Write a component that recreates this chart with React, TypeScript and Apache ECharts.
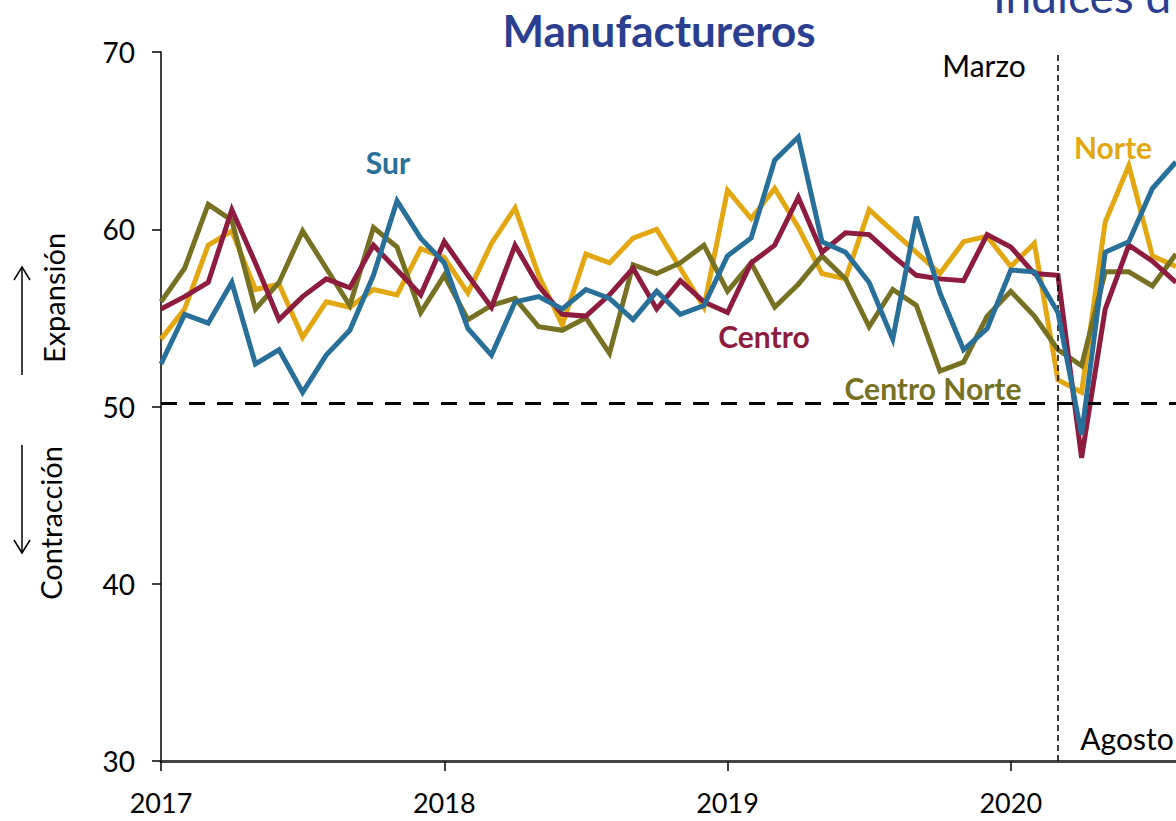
import React, { useEffect, useRef } from "react";
import * as echarts from "echarts";

const months: string[] = [];
for (let y = 2017; y <= 2020; y++) {
  for (let m = 1; m <= 12; m++) {
    if (y === 2020 && m > 8) break;
    months.push(`${y}-${String(m).padStart(2, "0")}`);
  }
}

const norte = [53.8, 55.5, 59.1, 59.9, 56.6, 56.9, 53.9, 55.9, 55.6, 56.6, 56.3, 58.9,
  58.4, 56.4, 59.2, 61.2, 57.4, 54.6, 58.6, 58.1, 59.5, 60.0, 57.8, 55.6,
  62.2, 60.6, 62.3, 60.1, 57.5, 57.2, 61.1, 59.9, 58.7, 57.5, 59.3, 59.6,
  57.9, 59.2, 51.5, 50.8, 60.4, 63.6, 58.5, 57.9];
const centro = [55.5, 56.2, 57.0, 61.1, 58.1, 54.9, 56.2, 57.2, 56.7, 59.1, 57.7, 56.3,
  59.3, 57.4, 55.6, 59.1, 56.8, 55.2, 55.1, 56.3, 57.8, 55.5, 57.1, 55.9,
  55.3, 58.1, 59.1, 61.8, 58.7, 59.8, 59.7, 58.5, 57.4, 57.2, 57.1, 59.7,
  59.0, 57.5, 57.4, 47.1, 55.5, 59.1, 58.2, 57.0];
const centroNorte = [55.9, 57.8, 61.4, 60.5, 55.5, 57.0, 59.9, 57.8, 55.7, 60.1, 59.0, 55.3,
  57.4, 54.9, 55.7, 56.1, 54.5, 54.3, 55.0, 53.0, 58.0, 57.5, 58.1, 59.1,
  56.5, 58.1, 55.6, 56.9, 58.5, 57.2, 54.5, 56.6, 55.7, 52.0, 52.5, 55.1,
  56.5, 55.1, 53.2, 52.3, 57.6, 57.6, 56.8, 58.6];
const sur = [52.4, 55.2, 54.7, 57.0, 52.4, 53.2, 50.8, 52.9, 54.3, 57.4, 61.6, 59.5,
  58.1, 54.4, 52.9, 55.9, 56.2, 55.5, 56.6, 56.1, 54.9, 56.5, 55.2, 55.7,
  58.5, 59.5, 63.9, 65.2, 59.3, 58.7, 57.0, 53.8, 60.7, 56.4, 53.2, 54.4,
  57.7, 57.6, 55.3, 48.4, 58.7, 59.3, 62.3, 63.8];

const yTicks = [30, 40, 50, 60, 70];
const threshold = 50.2;
const eventMonth = "2020-03";

const FONT = "Lato, 'Open Sans', sans-serif";
const C_NORTE = "#E2A711";
const C_CENTRO = "#8E1C3F";
const C_CN = "#767123";
const C_SUR = "#286F99";
const C_TITLE = "#2B3F91";

export default function App() {
  const ref = useRef<HTMLDivElement>(null);
  useEffect(() => {
    if (!ref.current) return;
    const chart = echarts.init(ref.current, null, { renderer: "svg" });
    const mkLine = (name: string, data: number[], color: string, z: number) => ({
      name,
      type: "line",
      data,
      symbol: "none",
      z,
      lineStyle: { color, width: 5, join: "miter" },
    });
    const lbl = (text: string, x: number, y: number, color: string, bold = true) => ({
      type: "text", x, y,
      style: { text, font: `${bold ? "bold " : ""}30px ${FONT}`, fill: color, align: "center", verticalAlign: "middle" },
    });
    const option: any = {
      animation: false,
      grid: { left: 161, right: 0, top: 52, bottom: 60 },
      xAxis: {
        type: "category",
        data: months,
        boundaryGap: false,
        axisLine: { lineStyle: { color: "#444", width: 3 } },
        axisTick: {
          show: true,
          length: 10,
          interval: (i: number) => i % 12 === 0,
          lineStyle: { color: "#000", width: 1.5 },
        },
        axisLabel: {
          interval: (i: number) => i % 12 === 0,
          formatter: (v: string) => v.slice(0, 4),
          fontFamily: FONT,
          fontSize: 27,
          color: "#000",
          margin: 28,
        },
        splitLine: { show: false },
      },
      yAxis: {
        type: "value",
        min: yTicks[0],
        max: yTicks[yTicks.length - 1],
        interval: 10,
        axisLine: { show: true, lineStyle: { color: "#000", width: 1.5 } },
        axisTick: { show: true, length: 9, lineStyle: { color: "#000", width: 1.5 } },
        axisLabel: { fontFamily: FONT, fontSize: 28, color: "#000", margin: 26 },
        splitLine: { show: false },
      },
      series: [
        {
          ...mkLine("Norte", norte, C_NORTE, 2),
          markLine: {
            silent: true,
            symbol: "none",
            label: { show: false },
            data: [
              { yAxis: threshold, lineStyle: { color: "#000", width: 3, type: [16, 12] } },
              { xAxis: eventMonth, lineStyle: { color: "#000", width: 1.5, type: [6, 4] } },
            ],
          },
        },
        mkLine("Centro Norte", centroNorte, C_CN, 3),
        mkLine("Centro", centro, C_CENTRO, 4),
        mkLine("Sur", sur, C_SUR, 5),
      ],
      graphic: [
        {
          type: "text", x: 659, y: 30,
          style: { text: "Manufactureros", font: `bold 44px ${FONT}`, fill: C_TITLE, align: "center", verticalAlign: "middle" },
        },
        {
          type: "text", x: 993, y: -28,
          style: { text: "Índices d", font: `46px ${FONT}`, fill: C_TITLE },
        },
        lbl("Sur", 388, 162, C_SUR),
        lbl("Norte", 1113, 147, C_NORTE),
        lbl("Centro", 764, 336, C_CENTRO),
        lbl("Centro Norte", 933, 388, C_CN),
        lbl("Marzo", 984, 65, "#000", false),
        lbl("Agosto", 1127, 738, "#000", false),
        {
          type: "text", x: 53, y: 298, rotation: Math.PI / 2,
          style: { text: "Expansión", font: `29px ${FONT}`, fill: "#000", align: "center", verticalAlign: "middle" },
        },
        {
          type: "text", x: 50, y: 523, rotation: Math.PI / 2,
          style: { text: "Contracción", font: `29px ${FONT}`, fill: "#000", align: "center", verticalAlign: "middle" },
        },
        { type: "line", shape: { x1: 22, y1: 375, x2: 22, y2: 267 }, style: { stroke: "#000", lineWidth: 1.5 } },
        { type: "polyline", shape: { points: [[14, 280], [22, 267], [30, 280]] }, style: { stroke: "#000", lineWidth: 1.5, fill: null } },
        { type: "line", shape: { x1: 22, y1: 445, x2: 22, y2: 553 }, style: { stroke: "#000", lineWidth: 1.5 } },
        { type: "polyline", shape: { points: [[14, 540], [22, 553], [30, 540]] }, style: { stroke: "#000", lineWidth: 1.5, fill: null } },
      ],
    };
    chart.setOption(option);
    return () => chart.dispose();
  }, []);
  return (
    <div
      ref={ref}
      style={{ position: "fixed", left: 0, top: 0, width: 1176, height: 821, background: "#fff" }}
    />
  );
}
